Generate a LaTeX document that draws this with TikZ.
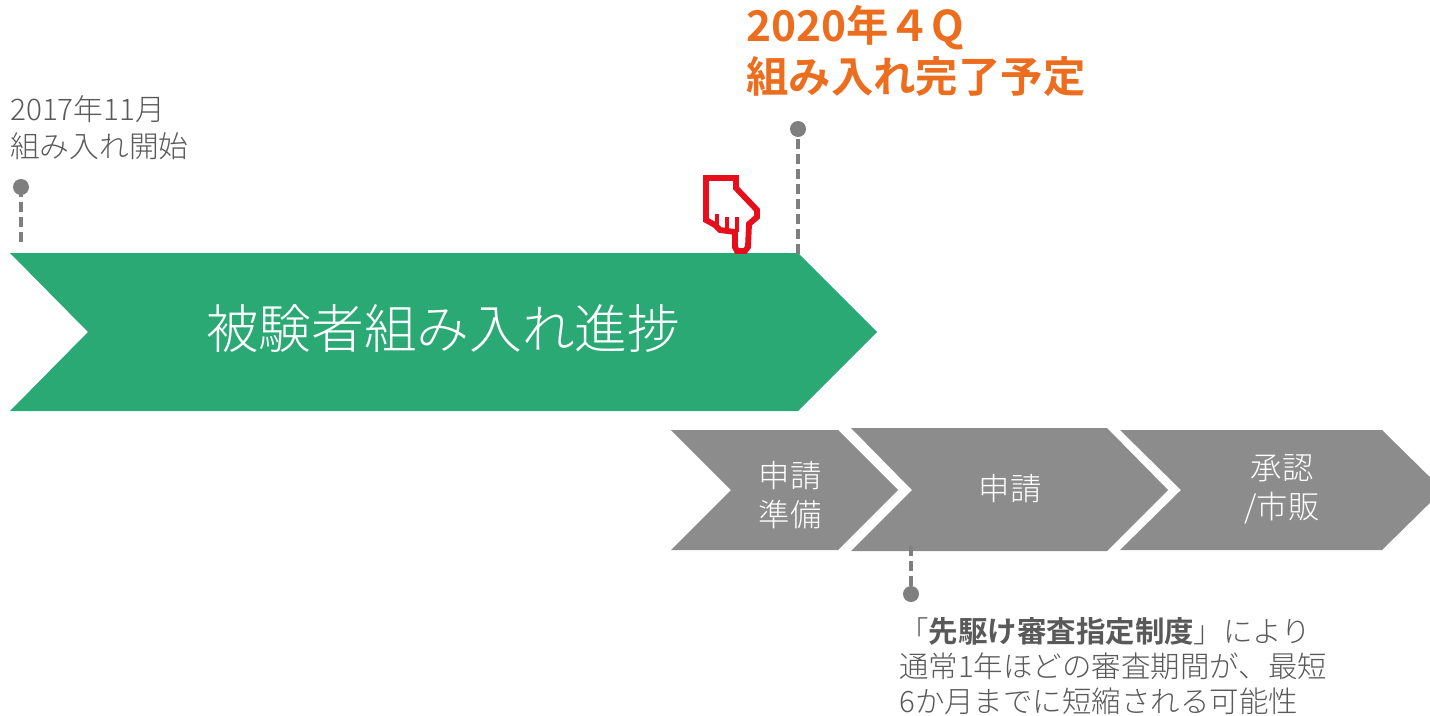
\documentclass[tikz,border=0pt]{standalone}
\usepackage{fontspec}
\setmainfont{Noto Sans CJK JP}[BoldFont={Noto Sans CJK JP Bold}]
\newfontfamily\lightjp{Noto Sans CJK JP Light}
\definecolor{chevgreen}{HTML}{2BA975}
\definecolor{chevgrey}{HTML}{8C8C8C}
\definecolor{pingrey}{HTML}{7F7F7F}
\definecolor{txtgrey}{HTML}{595959}
\definecolor{noteorange}{HTML}{ED6D1F}
\definecolor{handred}{HTML}{E60E1A}
\tikzset{
  x=0.75pt,y=-0.75pt,
  chevgreenbox/.style={fill=chevgreen,draw=none},
  chevgreybox/.style={fill=chevgrey,draw=none},
  chevlabel/.style={text=white,align=center,inner sep=0pt,font=\lightjp\fontsize{23.5}{29.25}\selectfont},
  pin/.style={circle,fill=pingrey,draw=none,minimum size=12pt,inner sep=0pt},
  pinline/.style={draw=pingrey,line width=3.4pt,dash pattern=on 7.5pt off 3.75pt},
  graytext/.style={text=txtgrey,align=left,inner sep=0pt,anchor=north west},
}
\begin{document}
\begin{tikzpicture}
\useasboundingbox (0,0) rectangle (1430,715);
\clip (0,0) rectangle (1430,715);
% chevrons
\fill[chevgreenbox] (10,253)--(798,253)--(877,332)--(798,411)--(10,411)--(88,332)--cycle;
\fill[chevgreybox] (671,430)--(838,430)--(898,490)--(838,550)--(671,550)--(731,490)--cycle;
\fill[chevgreybox] (851,428)--(1107,428)--(1168,490)--(1107,551)--(851,551)--(912,490)--cycle;
\fill[chevgreybox] (1120,430)--(1382,430)--(1443,490)--(1382,550)--(1120,550)--(1181,490)--cycle;
% chevron labels
\node[text=white,inner sep=0pt,font=\lightjp\fontsize{39.5}{46}\selectfont] (main) at (443,329) {被験者組み入れ進捗};
\node[chevlabel] (prep) at (790,495) {申請\\準備};
\node[chevlabel] (apply) at (1010,489) {申請};
\node[chevlabel] (appr) at (1282,489) {承認\\/市販};
% pins
\coordinate (startfoot) at (21,245);
\coordinate (endfoot) at (798,254);
\coordinate (notefoot) at (911,546);
\node[pin] (startpin) at (21,187) {};
\node[pin] (endpin) at (798,129) {};
\node[pin] (notepin) at (911,594) {};
\draw[pinline] (startpin.center) -- (startfoot);
\draw[pinline] (endfoot) -- (endpin.center);
\draw[pinline] (notefoot) -- (notepin.center);
% texts
\node[graytext,font=\lightjp\fontsize{22.3}{27.75}\selectfont] (starttxt) at (10,95) {2017年11月\\組み入れ開始};
\node[anchor=north west,inner sep=0pt,align=left,text=noteorange,font=\bfseries\fontsize{31.8}{38.2}\selectfont] (endtxt) at (746,5) {2020年４Q\\組み入れ完了予定};
\node[graytext,font=\lightjp\fontsize{22.1}{26.3}\selectfont] (notetxt) at (899,617) {「{\normalfont\bfseries 先駆け審査指定制度}」により\\通常1年ほどの審査期間が、最短\\6か月までに短縮される可能性};
% pointing hand
\draw[handred,line width=4.4pt,line join=miter,fill=white]
 (706,178)--(736,178)--(736,188)--(757,210)--(757,217)--(749,224)--(748,247)--(745,251)--(737,251)--(735,247)--(735,232)--(720,230)--(715,225)--(706,220)--cycle;
\draw[handred,line width=3.4pt] (717,214)--(717,226) (727,217)--(727,231) (737,217)--(737,232);
\end{tikzpicture}
\end{document}
